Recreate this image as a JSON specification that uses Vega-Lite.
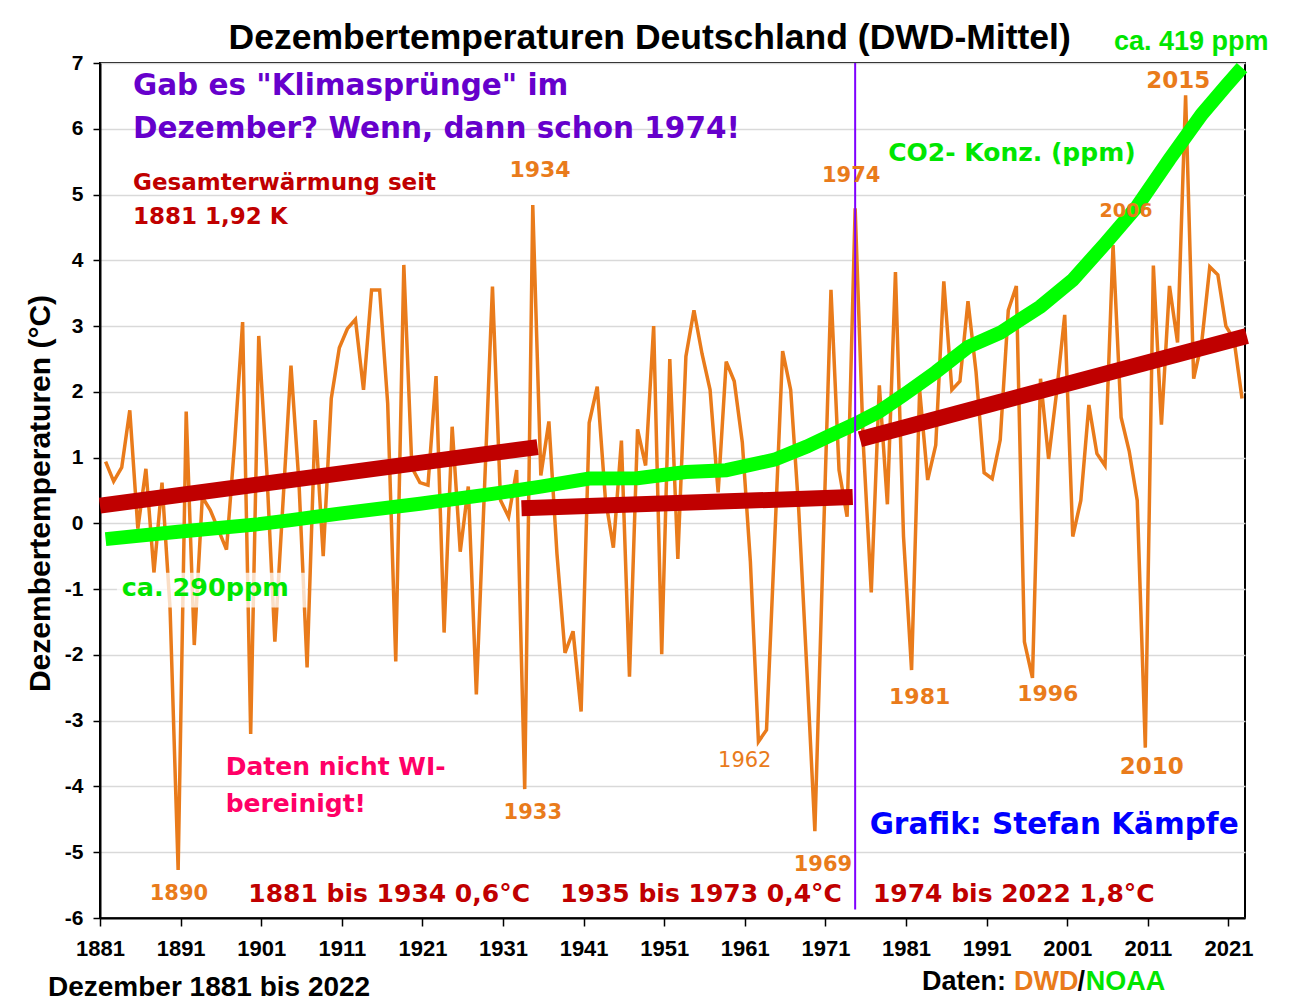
{
  "$schema": "https://vega.github.io/schema/vega-lite/v6.json",
  "width": 1145,
  "height": 855,
  "autosize": {"type": "none"},
  "padding": {"left": 100, "top": 63, "right": 46, "bottom": 87},
  "background": "white",
  "config": {
    "view": {"stroke": "black", "strokeWidth": 2},
    "axis": {"gridColor": "#d9d9d9", "gridWidth": 1.3}
  },
  "datasets": {
    "temp": [
      {"year": 1881, "temp": 0.94}, {"year": 1882, "temp": 0.64}, {"year": 1883, "temp": 0.85}, {"year": 1884, "temp": 1.72},
      {"year": 1885, "temp": -0.08}, {"year": 1886, "temp": 0.83}, {"year": 1887, "temp": -0.75}, {"year": 1888, "temp": 0.62},
      {"year": 1889, "temp": -1.3}, {"year": 1890, "temp": -5.27}, {"year": 1891, "temp": 1.7}, {"year": 1892, "temp": -1.85},
      {"year": 1893, "temp": 0.4}, {"year": 1894, "temp": 0.2}, {"year": 1895, "temp": -0.1}, {"year": 1896, "temp": -0.4},
      {"year": 1897, "temp": 1.2}, {"year": 1898, "temp": 3.06}, {"year": 1899, "temp": -3.2}, {"year": 1900, "temp": 2.85},
      {"year": 1901, "temp": 0.8}, {"year": 1902, "temp": -1.8}, {"year": 1903, "temp": 0.3}, {"year": 1904, "temp": 2.4},
      {"year": 1905, "temp": 0.6}, {"year": 1906, "temp": -2.19}, {"year": 1907, "temp": 1.57}, {"year": 1908, "temp": -0.5},
      {"year": 1909, "temp": 1.9}, {"year": 1910, "temp": 2.67}, {"year": 1911, "temp": 2.96}, {"year": 1912, "temp": 3.1},
      {"year": 1913, "temp": 2.03}, {"year": 1914, "temp": 3.55}, {"year": 1915, "temp": 3.55}, {"year": 1916, "temp": 1.82},
      {"year": 1917, "temp": -2.1}, {"year": 1918, "temp": 3.93}, {"year": 1919, "temp": 0.85}, {"year": 1920, "temp": 0.62},
      {"year": 1921, "temp": 0.58}, {"year": 1922, "temp": 2.24}, {"year": 1923, "temp": -1.66}, {"year": 1924, "temp": 1.47},
      {"year": 1925, "temp": -0.43}, {"year": 1926, "temp": 0.56}, {"year": 1927, "temp": -2.6}, {"year": 1928, "temp": 0.5},
      {"year": 1929, "temp": 3.6}, {"year": 1930, "temp": 0.35}, {"year": 1931, "temp": 0.1}, {"year": 1932, "temp": 0.81},
      {"year": 1933, "temp": -4.04}, {"year": 1934, "temp": 4.84}, {"year": 1935, "temp": 0.73}, {"year": 1936, "temp": 1.55},
      {"year": 1937, "temp": -0.46}, {"year": 1938, "temp": -1.97}, {"year": 1939, "temp": -1.64}, {"year": 1940, "temp": -2.86},
      {"year": 1941, "temp": 1.53}, {"year": 1942, "temp": 2.08}, {"year": 1943, "temp": 0.39}, {"year": 1944, "temp": -0.37},
      {"year": 1945, "temp": 1.26}, {"year": 1946, "temp": -2.33}, {"year": 1947, "temp": 1.43}, {"year": 1948, "temp": 0.88},
      {"year": 1949, "temp": 3.0}, {"year": 1950, "temp": -1.99}, {"year": 1951, "temp": 2.5}, {"year": 1952, "temp": -0.54},
      {"year": 1953, "temp": 2.54}, {"year": 1954, "temp": 3.24}, {"year": 1955, "temp": 2.58}, {"year": 1956, "temp": 2.03},
      {"year": 1957, "temp": 0.47}, {"year": 1958, "temp": 2.46}, {"year": 1959, "temp": 2.16}, {"year": 1960, "temp": 1.23},
      {"year": 1961, "temp": -0.58}, {"year": 1962, "temp": -3.32}, {"year": 1963, "temp": -3.14}, {"year": 1964, "temp": -0.3},
      {"year": 1965, "temp": 2.62}, {"year": 1966, "temp": 2.03}, {"year": 1967, "temp": 0.2}, {"year": 1968, "temp": -2.2},
      {"year": 1969, "temp": -4.68}, {"year": 1970, "temp": -0.5}, {"year": 1971, "temp": 3.55}, {"year": 1972, "temp": 0.81},
      {"year": 1973, "temp": 0.1}, {"year": 1974, "temp": 4.79}, {"year": 1975, "temp": 1.23}, {"year": 1976, "temp": -1.05},
      {"year": 1977, "temp": 2.1}, {"year": 1978, "temp": 0.29}, {"year": 1979, "temp": 3.82}, {"year": 1980, "temp": -0.2},
      {"year": 1981, "temp": -2.23}, {"year": 1982, "temp": 2.03}, {"year": 1983, "temp": 0.66}, {"year": 1984, "temp": 1.19},
      {"year": 1985, "temp": 3.68}, {"year": 1986, "temp": 2.03}, {"year": 1987, "temp": 2.16}, {"year": 1988, "temp": 3.38},
      {"year": 1989, "temp": 2.3}, {"year": 1990, "temp": 0.77}, {"year": 1991, "temp": 0.68}, {"year": 1992, "temp": 1.27},
      {"year": 1993, "temp": 3.24}, {"year": 1994, "temp": 3.61}, {"year": 1995, "temp": -1.8}, {"year": 1996, "temp": -2.35},
      {"year": 1997, "temp": 2.2}, {"year": 1998, "temp": 0.98}, {"year": 1999, "temp": 2.0}, {"year": 2000, "temp": 3.17},
      {"year": 2001, "temp": -0.2}, {"year": 2002, "temp": 0.35}, {"year": 2003, "temp": 1.8}, {"year": 2004, "temp": 1.06},
      {"year": 2005, "temp": 0.88}, {"year": 2006, "temp": 4.23}, {"year": 2007, "temp": 1.61}, {"year": 2008, "temp": 1.1},
      {"year": 2009, "temp": 0.35}, {"year": 2010, "temp": -3.41}, {"year": 2011, "temp": 3.92}, {"year": 2012, "temp": 1.5},
      {"year": 2013, "temp": 3.61}, {"year": 2014, "temp": 2.75}, {"year": 2015, "temp": 6.51}, {"year": 2016, "temp": 2.2},
      {"year": 2017, "temp": 2.75}, {"year": 2018, "temp": 3.9}, {"year": 2019, "temp": 3.78}, {"year": 2020, "temp": 3.0},
      {"year": 2021, "temp": 2.8}, {"year": 2022, "temp": 1.9}
    ],
    "co2": [
      {"year": 1881, "ppm": 290.2}, {"year": 1890, "ppm": 292.2}, {"year": 1900, "ppm": 294.3}, {"year": 1904, "ppm": 295.4},
      {"year": 1910, "ppm": 297.2}, {"year": 1920, "ppm": 299.9}, {"year": 1929, "ppm": 302.6}, {"year": 1935, "ppm": 304.6},
      {"year": 1941, "ppm": 306.8}, {"year": 1947, "ppm": 306.9}, {"year": 1953, "ppm": 308.6}, {"year": 1958, "ppm": 309.1},
      {"year": 1964, "ppm": 312.0}, {"year": 1968, "ppm": 315.6}, {"year": 1971, "ppm": 318.7}, {"year": 1974, "ppm": 321.8},
      {"year": 1977, "ppm": 325.2}, {"year": 1980, "ppm": 329.7}, {"year": 1984, "ppm": 336.0}, {"year": 1988, "ppm": 342.9},
      {"year": 1992, "ppm": 346.8}, {"year": 1997, "ppm": 354.0}, {"year": 2001, "ppm": 361.3}, {"year": 2005, "ppm": 371.2},
      {"year": 2009, "ppm": 381.5}, {"year": 2013, "ppm": 394.4}, {"year": 2017, "ppm": 406.7}, {"year": 2020, "ppm": 414.5},
      {"year": 2022, "ppm": 419.5}
    ],
    "trend": [
      {"seg": "1881-1934", "year": 1880.3, "value": 0.27}, {"seg": "1881-1934", "year": 1934.6, "value": 1.16},
      {"seg": "1935-1973", "year": 1932.6, "value": 0.23}, {"seg": "1935-1973", "year": 1973.7, "value": 0.4},
      {"seg": "1974-2022", "year": 1974.6, "value": 1.28}, {"seg": "1974-2022", "year": 2022.6, "value": 2.85}
    ]
  },
  "layer": [
    {
      "layer": [
        {
          "data": {"name": "temp"},
          "mark": {"type": "line", "color": "#E97B1B", "strokeWidth": 3.5},
          "encoding": {
            "x": {
              "field": "year", "type": "quantitative",
              "scale": {"domain": [1880.305, 2022.37], "nice": false, "zero": false},
              "axis": {
                "values": [1880.31, 1890.31, 1900.31, 1910.31, 1920.31, 1930.31, 1940.31, 1950.31, 1960.31, 1970.31, 1980.31, 1990.31, 2000.31, 2010.31, 2020.31],
                "labelExpr": "round(datum.value + 0.7)",
                "title": null, "grid": false,
                "domainColor": "black", "domainWidth": 2,
                "tickColor": "black", "tickWidth": 1.5, "tickSize": 8,
                "labelFont": "Liberation Sans", "labelFontWeight": "bold", "labelFontSize": 22,
                "labelColor": "black", "labelPadding": 12, "labelFlush": false, "labelOverlap": false
              }
            },
            "y": {
              "field": "temp", "type": "quantitative",
              "scale": {"domain": [-6, 7], "nice": false, "zero": false},
              "axis": {
                "values": [-6, -5, -4, -3, -2, -1, 0, 1, 2, 3, 4, 5, 6, 7],
                "labelExpr": "'' + datum.value",
                "grid": true,
                "domainColor": "black", "domainWidth": 2,
                "tickColor": "black", "tickWidth": 1.5, "tickSize": 7,
                "labelFont": "Liberation Sans", "labelFontWeight": "bold", "labelFontSize": 21,
                "labelColor": "black", "labelPadding": 10,
                "title": "Dezembertemperaturen (°C)",
                "titleFont": "Liberation Sans", "titleFontWeight": "bold", "titleFontSize": 30, "titleColor": "black",
                "titleAngle": 270, "titleX": -60, "titleY": 430, "titleAlign": "center", "titleBaseline": "middle"
              }
            }
          }
        },
        {
          "data": {"values": [{}]},
          "mark": {"type": "rect", "color": "white", "opacity": 0.75},
          "encoding": {"x": {"datum": 1882.4}, "x2": {"datum": 1906.0}, "y": {"datum": -0.75}, "y2": {"datum": -1.28}}
        }
      ]
    },
    {
      "data": {"name": "co2"},
      "mark": {"type": "line", "color": "#00FF00", "strokeWidth": 14, "strokeCap": "butt"},
      "encoding": {
        "x": {"field": "year", "type": "quantitative"},
        "y": {"field": "ppm", "type": "quantitative", "scale": {"domain": [186.27, 420.79], "nice": false, "zero": false}, "axis": null}
      }
    },
    {
      "data": {"values": [{}]},
      "layer": [
        {
          "data": {"name": "trend"},
          "mark": {"type": "line", "color": "#C00000", "strokeWidth": 16, "strokeCap": "butt"},
          "encoding": {
            "x": {"field": "year", "type": "quantitative"},
            "y": {"field": "value", "type": "quantitative", "scale": {"domain": [-6, 7], "nice": false, "zero": false}, "axis": null},
            "detail": {"field": "seg"}
          }
        },
        {
          "mark": {"type": "rule", "color": "#7F00FF", "strokeWidth": 2},
          "encoding": {"x": {"datum": 1974}, "y": {"datum": 7}, "y2": {"datum": -5.87}}
        },
        {"mark": {"type": "text", "text": "Dezembertemperaturen Deutschland (DWD-Mittel)", "align": "center", "baseline": "middle", "font": "Liberation Sans", "fontWeight": "bold", "fontSize": 35.5, "color": "black"},
         "encoding": {"x": {"datum": 1948.5}, "y": {"datum": 7.38}}},
        {"mark": {"type": "text", "text": "Gab es \"Klimasprünge\" im", "align": "left", "baseline": "middle", "font": "DejaVu Sans", "fontWeight": "bold", "fontSize": 29.5, "color": "#6600CC"},
         "encoding": {"x": {"datum": 1884.4}, "y": {"datum": 6.65}}},
        {"mark": {"type": "text", "text": "Dezember? Wenn, dann schon 1974!", "align": "left", "baseline": "middle", "font": "DejaVu Sans", "fontWeight": "bold", "fontSize": 29.5, "color": "#6600CC"},
         "encoding": {"x": {"datum": 1884.4}, "y": {"datum": 6.0}}},
        {"mark": {"type": "text", "text": "Gesamterwärmung seit", "align": "left", "baseline": "middle", "font": "DejaVu Sans", "fontWeight": "bold", "fontSize": 23, "color": "#C00000"},
         "encoding": {"x": {"datum": 1884.4}, "y": {"datum": 5.18}}},
        {"mark": {"type": "text", "text": "1881 1,92 K", "align": "left", "baseline": "middle", "font": "DejaVu Sans", "fontWeight": "bold", "fontSize": 23, "color": "#C00000"},
         "encoding": {"x": {"datum": 1884.4}, "y": {"datum": 4.66}}},
        {"mark": {"type": "text", "text": "1934", "align": "center", "baseline": "middle", "font": "DejaVu Sans", "fontWeight": "bold", "fontSize": 22, "color": "#E97B1B"},
         "encoding": {"x": {"datum": 1934.9}, "y": {"datum": 5.37}}},
        {"mark": {"type": "text", "text": "1974", "align": "center", "baseline": "middle", "font": "DejaVu Sans", "fontWeight": "bold", "fontSize": 21, "color": "#E97B1B"},
         "encoding": {"x": {"datum": 1973.5}, "y": {"datum": 5.28}}},
        {"mark": {"type": "text", "text": "CO2- Konz. (ppm)", "align": "left", "baseline": "middle", "font": "DejaVu Sans", "fontWeight": "bold", "fontSize": 25, "color": "#00E600"},
         "encoding": {"x": {"datum": 1978.1}, "y": {"datum": 5.63}}},
        {"mark": {"type": "text", "text": "2006", "align": "center", "baseline": "middle", "font": "DejaVu Sans", "fontWeight": "bold", "fontSize": 19, "color": "#E97B1B"},
         "encoding": {"x": {"datum": 2007.6}, "y": {"datum": 4.75}}},
        {"mark": {"type": "text", "text": "2015", "align": "center", "baseline": "middle", "font": "DejaVu Sans", "fontWeight": "bold", "fontSize": 23, "color": "#E97B1B"},
         "encoding": {"x": {"datum": 2014.1}, "y": {"datum": 6.73}}},
        {"mark": {"type": "text", "text": "ca. 419 ppm", "align": "center", "baseline": "middle", "font": "Liberation Sans", "fontWeight": "bold", "fontSize": 27, "color": "#00E600"},
         "encoding": {"x": {"datum": 2015.7}, "y": {"datum": 7.32}}},
        {"mark": {"type": "text", "text": "ca. 290ppm", "align": "left", "baseline": "middle", "font": "DejaVu Sans", "fontWeight": "bold", "fontSize": 25.5, "color": "#00E600"},
         "encoding": {"x": {"datum": 1883.0}, "y": {"datum": -0.99}}},
        {"mark": {"type": "text", "text": "1890", "align": "center", "baseline": "middle", "font": "DejaVu Sans", "fontWeight": "bold", "fontSize": 21, "color": "#E97B1B"},
         "encoding": {"x": {"datum": 1890.1}, "y": {"datum": -5.64}}},
        {"mark": {"type": "text", "text": "1881 bis 1934 0,6°C", "align": "left", "baseline": "middle", "font": "DejaVu Sans", "fontWeight": "bold", "fontSize": 25, "color": "#C00000"},
         "encoding": {"x": {"datum": 1898.7}, "y": {"datum": -5.64}}},
        {"mark": {"type": "text", "text": "1935 bis 1973 0,4°C", "align": "left", "baseline": "middle", "font": "DejaVu Sans", "fontWeight": "bold", "fontSize": 25, "color": "#C00000"},
         "encoding": {"x": {"datum": 1937.4}, "y": {"datum": -5.64}}},
        {"mark": {"type": "text", "text": "1974 bis 2022 1,8°C", "align": "left", "baseline": "middle", "font": "DejaVu Sans", "fontWeight": "bold", "fontSize": 25, "color": "#C00000"},
         "encoding": {"x": {"datum": 1976.2}, "y": {"datum": -5.64}}},
        {"mark": {"type": "text", "text": "1969", "align": "center", "baseline": "middle", "font": "DejaVu Sans", "fontWeight": "bold", "fontSize": 21, "color": "#E97B1B"},
         "encoding": {"x": {"datum": 1970.0}, "y": {"datum": -5.19}}},
        {"mark": {"type": "text", "text": "1962", "align": "center", "baseline": "middle", "font": "DejaVu Sans", "fontWeight": "normal", "fontSize": 21, "color": "#E97B1B"},
         "encoding": {"x": {"datum": 1960.3}, "y": {"datum": -3.62}}},
        {"mark": {"type": "text", "text": "1933", "align": "center", "baseline": "middle", "font": "DejaVu Sans", "fontWeight": "bold", "fontSize": 21, "color": "#E97B1B"},
         "encoding": {"x": {"datum": 1934.0}, "y": {"datum": -4.41}}},
        {"mark": {"type": "text", "text": "Daten nicht WI-", "align": "left", "baseline": "middle", "font": "DejaVu Sans", "fontWeight": "bold", "fontSize": 25, "color": "#FF0066"},
         "encoding": {"x": {"datum": 1895.9}, "y": {"datum": -3.7}}},
        {"mark": {"type": "text", "text": "bereinigt!", "align": "left", "baseline": "middle", "font": "DejaVu Sans", "fontWeight": "bold", "fontSize": 25, "color": "#FF0066"},
         "encoding": {"x": {"datum": 1895.9}, "y": {"datum": -4.26}}},
        {"mark": {"type": "text", "text": "1981", "align": "center", "baseline": "middle", "font": "DejaVu Sans", "fontWeight": "bold", "fontSize": 22, "color": "#E97B1B"},
         "encoding": {"x": {"datum": 1982.0}, "y": {"datum": -2.64}}},
        {"mark": {"type": "text", "text": "1996", "align": "center", "baseline": "middle", "font": "DejaVu Sans", "fontWeight": "bold", "fontSize": 22, "color": "#E97B1B"},
         "encoding": {"x": {"datum": 1997.9}, "y": {"datum": -2.6}}},
        {"mark": {"type": "text", "text": "2010", "align": "center", "baseline": "middle", "font": "DejaVu Sans", "fontWeight": "bold", "fontSize": 23, "color": "#E97B1B"},
         "encoding": {"x": {"datum": 2010.8}, "y": {"datum": -3.7}}},
        {"mark": {"type": "text", "text": "Grafik: Stefan Kämpfe", "align": "left", "baseline": "middle", "font": "DejaVu Sans", "fontWeight": "bold", "fontSize": 29.5, "color": "#0000FF"},
         "encoding": {"x": {"datum": 1975.8}, "y": {"datum": -4.58}}},
        {"mark": {"type": "text", "text": "Dezember 1881 bis 2022", "align": "left", "baseline": "middle", "font": "Liberation Sans", "fontWeight": "bold", "fontSize": 28, "color": "black"},
         "encoding": {"x": {"datum": 1873.85}, "y": {"datum": -7.06}}},
        {"mark": {"type": "text", "text": "Daten:", "align": "left", "baseline": "middle", "font": "Liberation Sans", "fontWeight": "bold", "fontSize": 27, "color": "black"},
         "encoding": {"x": {"datum": 1982.3}, "y": {"datum": -6.98}}},
        {"mark": {"type": "text", "text": "DWD", "align": "left", "baseline": "middle", "font": "Liberation Sans", "fontWeight": "bold", "fontSize": 27, "color": "#E97B1B"},
         "encoding": {"x": {"datum": 1993.7}, "y": {"datum": -6.98}}},
        {"mark": {"type": "text", "text": "/", "align": "left", "baseline": "middle", "font": "Liberation Sans", "fontWeight": "bold", "fontSize": 27, "color": "black"},
         "encoding": {"x": {"datum": 2001.6}, "y": {"datum": -6.98}}},
        {"mark": {"type": "text", "text": "NOAA", "align": "left", "baseline": "middle", "font": "Liberation Sans", "fontWeight": "bold", "fontSize": 27, "color": "#00E600"},
         "encoding": {"x": {"datum": 2002.6}, "y": {"datum": -6.98}}}
      ]
    }
  ],
  "resolve": {"scale": {"y": "independent"}}
}
